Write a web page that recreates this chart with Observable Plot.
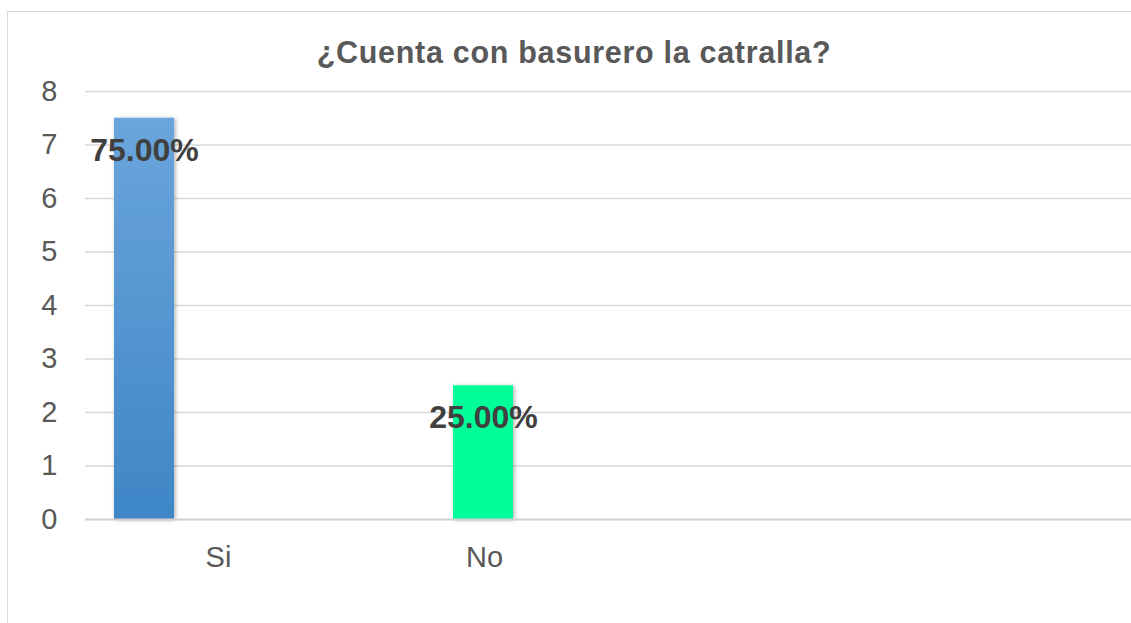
<!DOCTYPE html>
<html>
<head>
<meta charset="utf-8">
<script src="https://cdn.jsdelivr.net/npm/d3@7"></script>
<script src="https://cdn.jsdelivr.net/npm/@observablehq/plot@0.6"></script>
<style>
  html, body { margin: 0; padding: 0; background: #fff; overflow: hidden; width: 1131px; height: 623px; }
  #wrap { position: relative; width: 1131px; height: 623px; font-family: "Liberation Sans", Arial, sans-serif; }
  #border { position: absolute; left: 7px; top: 11px; width: 1300px; height: 800px; border: 1.5px solid #d9d9d9; box-sizing: border-box; }
  #title { position: absolute; left: 0; width: 1148px; top: 37px; text-align: center; font-size: 30.5px; line-height: 30px; font-weight: bold; color: #595959; letter-spacing: 0.7px; white-space: nowrap; }
  #chart { position: absolute; left: 0; top: 0; }
</style>
</head>
<body>
<div id="wrap">
  <div id="border"></div>
  <div id="chart"></div>
  <div id="title">¿Cuenta con basurero la catralla?</div>
</div>
<script>
const categories = ["Si", "No"];
const values = [7.5, 2.5];
const labels = ["75.00%", "25.00%"];
const seriesIndex = [0, 1];
const yTicks = [0, 1, 2, 3, 4, 5, 6, 7, 8];
const title = "¿Cuenta con basurero la catralla?";

const data = categories.map((c, i) => ({category: c, value: values[i], label: labels[i], series: seriesIndex[i]}));

const bandStep = 266, barW = 60, seriesStep = 73, padOuter = 29;
const insetL = s => padOuter + s * seriesStep;
const insetR = s => bandStep - insetL(s) - barW;
const fills = ["url(#blueGrad)", "#00FF99"];

const defs = () => {
  const d = d3.create("svg:defs");
  const g = d.append("linearGradient").attr("id", "blueGrad").attr("x1", 0).attr("y1", 0).attr("x2", 0).attr("y2", 1);
  g.append("stop").attr("offset", "0%").attr("stop-color", "#6BA5DC");
  g.append("stop").attr("offset", "100%").attr("stop-color", "#3F86C6");
  const f = d.append("filter").attr("id", "shadow").attr("x", "-30%").attr("y", "-10%").attr("width", "160%").attr("height", "120%");
  f.append("feDropShadow").attr("dx", 1.5).attr("dy", 1).attr("stdDeviation", 2).attr("flood-color", "#000").attr("flood-opacity", 0.3);
  return d.node();
};

const barMarks = data.map(d => Plot.barY([d], {
  x: "category", y: "value", fill: fills[d.series],
  insetLeft: insetL(d.series), insetRight: insetR(d.series)
}));

const textMarks = data.map(d => Plot.text([d], {
  x: "category", y: "value", text: "label",
  dx: insetL(d.series) + barW / 2 - bandStep / 2, dy: 32, lineAnchor: "middle",
  fontSize: 32, fontWeight: "bold", fill: "#404040"
}));

const chart = Plot.plot({
  width: 1131,
  height: 623,
  marginLeft: 85,
  marginRight: 0,
  marginTop: 91,
  marginBottom: 104,
  style: {fontFamily: '"Liberation Sans", Arial, sans-serif', background: "transparent", overflow: "visible"},
  x: {type: "band", domain: categories, range: [85, 85 + bandStep * categories.length], padding: 0},
  y: {domain: [0, 8]},
  marks: [
    defs,
    Plot.ruleY(yTicks.filter(t => t > 0), {stroke: "#d9d9d9", strokeWidth: 1.5}),
    ...barMarks,
    Plot.ruleY([0], {stroke: "#d0d0d0", strokeWidth: 2}),
    ...textMarks,
    Plot.axisY({ticks: yTicks, tickSize: 0, tickPadding: 28, fontSize: 29, color: "#595959", label: null, tickFormat: d => String(d)}),
    Plot.axisX({tickSize: 0, tickPadding: 27, fontSize: 29, color: "#595959", label: null})
  ]
});
d3.select(chart).selectAll("rect").filter(function() { return this.closest("g[aria-label='bar']"); }).attr("filter", "url(#shadow)");
document.getElementById("chart").appendChild(chart);
</script>
</body>
</html>
